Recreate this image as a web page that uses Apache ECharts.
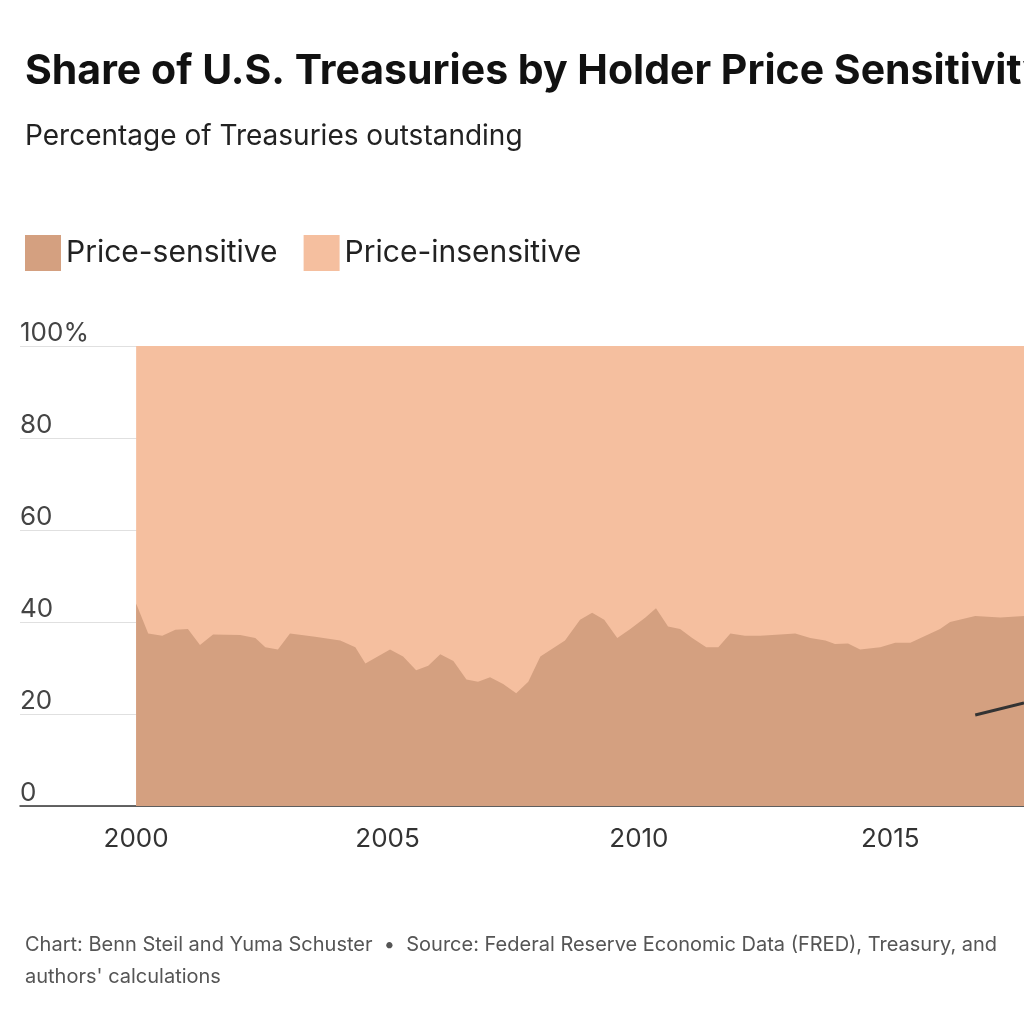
<!DOCTYPE html>
<html>
<head>
<meta charset="utf-8">
<script src="https://cdn.jsdelivr.net/npm/echarts@6/dist/echarts.min.js"></script>
<style>
    html, body { margin: 0; padding: 0; background: #fff; }
    #main { width: 1024px; height: 1024px; }
</style>
</head>
<body>
<div id="main"></div>
<script type="text/javascript">
    // 数据
    const years = [2000.00, 2000.24, 2000.52, 2000.78, 2001.03, 2001.27, 2001.53, 2002.07, 2002.37, 2002.57,
        2002.82, 2003.06, 2003.56, 2004.06, 2004.36, 2004.56, 2005.05, 2005.31, 2005.57, 2005.81,
        2006.05, 2006.31, 2006.57, 2006.80, 2007.04, 2007.30, 2007.56, 2007.80, 2008.04, 2008.53,
        2008.83, 2009.07, 2009.31, 2009.57, 2009.83, 2010.13, 2010.34, 2010.58, 2010.82, 2011.06,
        2011.34, 2011.58, 2011.82, 2012.11, 2012.41, 2012.81, 2013.11, 2013.41, 2013.71, 2013.90,
        2014.16, 2014.40, 2014.80, 2015.10, 2015.40, 2015.70, 2015.99, 2016.19, 2016.69, 2017.19, 2017.66];
    const sensitive = [44, 37.5, 37, 38.3, 38.5, 35, 37.3, 37.2, 36.5, 34.5,
        34, 37.5, 36.8, 36, 34.5, 31, 34, 32.5, 29.5, 30.5,
        33, 31.5, 27.5, 27, 28, 26.5, 24.5, 27, 32.5, 36,
        40.5, 42, 40.5, 36.5, 38.5, 41, 43, 39, 38.5, 36.5,
        34.5, 34.5, 37.5, 37, 37, 37.3, 37.5, 36.5, 36, 35.2,
        35.3, 34, 34.5, 35.5, 35.5, 37, 38.5, 40, 41.3, 41, 41.3];
    const lineYears = [2016.69, 2017.66];
    const lineValues = [19.8, 22.4];
    const xTicks = [2000, 2005, 2010, 2015];

    // price-insensitive 是剩余部分，顶部为 100%
    const total = sensitive.map(function (v) { return 100; });
    const font = 'Inter, "Noto Sans", sans-serif';

    let myChart = echarts.init(document.getElementById('main'));
    let option = {
        animation: false,
        textStyle: { fontFamily: font },
        title: [
            { text: 'Share of U.S. Treasuries by Holder Price Sensitivity', left: 20, top: 46,
              textStyle: { fontSize: 41, fontWeight: 'bold', color: '#111', fontFamily: font } },
            { text: 'Percentage of Treasuries outstanding', left: 20, top: 118,
              textStyle: { fontSize: 28, fontWeight: 'normal', color: '#222', fontFamily: font } },
            { text: "Chart: Benn Steil and Yuma Schuster  \u2022  Source: Federal Reserve Economic Data (FRED), Treasury, and\nauthors' calculations",
              left: 20, top: 924,
              textStyle: { fontSize: 20, fontWeight: 'normal', color: '#555', lineHeight: 32, fontFamily: font } }
        ],
        legend: {
            left: 20, top: 230, itemWidth: 36, itemHeight: 36, itemGap: 26,
            icon: 'rect',
            textStyle: { fontSize: 30, color: '#222', fontFamily: font },
            data: ['Price-sensitive', 'Price-insensitive']
        },
        grid: { left: 20, right: 0, top: 346, bottom: 218 },
        xAxis: {
            type: 'value', min: 1997.69, max: 2017.66,
            axisLine: { show: true, lineStyle: { color: '#333', width: 1.5 } },
            axisTick: { show: false },
            splitLine: { show: false },
            axisLabel: { customValues: xTicks, fontSize: 26, color: '#333', margin: 20,
                formatter: function (v) { return String(v); } }
        },
        yAxis: {
            type: 'value', min: 0, max: 100, interval: 20,
            axisLine: { show: false }, axisTick: { show: false },
            splitLine: { lineStyle: { color: 'rgba(0,0,0,0.12)' } },
            axisLabel: {
                inside: true, verticalAlign: 'bottom', fontSize: 26, color: '#444', margin: 0,
                formatter: function (v) { return v === 100 ? '100%' : String(v); }
            }
        },
        series: [
            { name: 'Price-insensitive', type: 'line', symbol: 'none', z: 1,
              data: years.map(function (y, i) { return [y, total[i]]; }),
              lineStyle: { width: 0 }, itemStyle: { color: '#f5bf9f' },
              areaStyle: { color: '#f5bf9f', opacity: 1 } },
            { name: 'Price-sensitive', type: 'line', symbol: 'none', z: 2,
              data: years.map(function (y, i) { return [y, sensitive[i]]; }),
              lineStyle: { width: 0 }, itemStyle: { color: '#d4a080' },
              areaStyle: { color: '#d4a080', opacity: 1 } },
            { name: 'other', type: 'line', symbol: 'none', z: 5,
              data: lineYears.map(function (y, i) { return [y, lineValues[i]]; }),
              lineStyle: { width: 3, color: '#333' } }
        ]
    };
    myChart.setOption(option);
</script>
</body>
</html>
